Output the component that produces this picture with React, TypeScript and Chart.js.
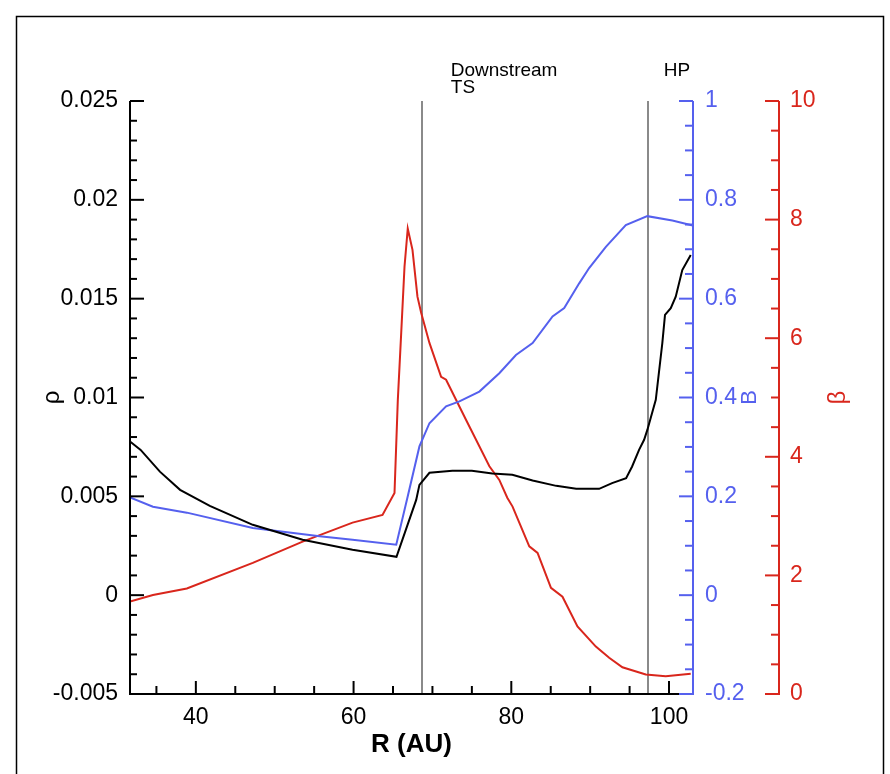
import React, { useEffect, useRef } from "react";
import { Chart, registerables } from "chart.js";

Chart.register(...registerables);

// ---- axis ranges / ticks ----
const xMin = 31.65;
const xMax = 103.04;
const xTicks = [40, 60, 80, 100];
const rhoRange = [-0.005, 0.025];
const rhoTicks = [-0.005, 0, 0.005, 0.01, 0.015, 0.02, 0.025];
const bRange = [-0.2, 1];
const bTicks = [-0.2, 0, 0.2, 0.4, 0.6, 0.8, 1];
const betaRange = [0, 10];
const betaTicks = [0, 2, 4, 6, 8, 10];

// ---- markers ----
const tsR = 68.65;
const hpR = 97.3;

// ---- series: density rho (black, left axis) ----
const rhoR = [31.65, 33.0, 35.44, 38.0, 41.77, 47.22, 53.54, 59.87, 65.44, 67.94, 68.35, 69.62, 72.53, 75.0, 77.59, 80.13, 82.7, 85.7, 88.23, 91.14, 92.78, 94.56, 95.32, 96.2, 96.84, 97.25, 98.32, 99.15, 99.49, 100.22, 100.85, 101.68, 102.75];
const rho = [0.00777, 0.00735, 0.00625, 0.00533, 0.00452, 0.00356, 0.0028, 0.0023, 0.00194, 0.00482, 0.00558, 0.00619, 0.0063, 0.0063, 0.00615, 0.00609, 0.0058, 0.00553, 0.00538, 0.00538, 0.00567, 0.00592, 0.00651, 0.00735, 0.00786, 0.00836, 0.00988, 0.01275, 0.01418, 0.01452, 0.0151, 0.01645, 0.01721];

// ---- series: magnetic field B (blue, right axis 1) ----
const bR = [31.65, 34.56, 38.86, 47.22, 55.7, 59.87, 65.41, 66.87, 68.35, 69.62, 71.73, 73.42, 75.95, 78.48, 80.59, 82.7, 85.23, 86.71, 88.61, 89.87, 91.99, 94.52, 97.25, 100.42, 103.0];
const bVal = [0.198, 0.179, 0.167, 0.136, 0.119, 0.112, 0.102, 0.2, 0.301, 0.348, 0.382, 0.392, 0.412, 0.449, 0.486, 0.51, 0.564, 0.581, 0.631, 0.662, 0.705, 0.749, 0.767, 0.758, 0.748];

// ---- series: plasma beta (red, right axis 2) ----
const betaR = [31.65, 34.56, 38.86, 47.22, 53.54, 59.87, 63.67, 65.19, 65.61, 66.04, 66.46, 66.87, 67.47, 68.1, 68.57, 69.62, 71.1, 71.73, 74.27, 77.22, 78.48, 79.49, 80.16, 82.28, 83.33, 85.03, 86.49, 88.39, 90.72, 92.41, 94.09, 97.05, 99.58, 102.75];
const beta = [1.56, 1.67, 1.78, 2.21, 2.57, 2.89, 3.02, 3.39, 4.96, 6.09, 7.21, 7.85, 7.49, 6.7, 6.43, 5.92, 5.35, 5.3, 4.62, 3.84, 3.61, 3.31, 3.16, 2.49, 2.38, 1.79, 1.64, 1.14, 0.8, 0.61, 0.45, 0.33, 0.3, 0.34];

const BLACK = "#000000";
const BLUE = "#5560ee";
const RED = "#d9261c";
const GRAY = "#8a8a8a";
const FONT = "'Liberation Sans', Arial, Helvetica, sans-serif";

function minorTicks(min: number, max: number, step: number): number[] {
  const out: number[] = [];
  const n = Math.round((max - min) / step);
  for (let i = 0; i <= n; i++) out.push(min + i * step);
  return out;
}

const zip = (xs: number[], ys: number[]) => xs.map((x, i) => ({ x, y: ys[i] }));

const decor = {
  id: "decor",
  beforeDraw(chart: any) {
    const { ctx } = chart;
    ctx.save();
    ctx.fillStyle = "#ffffff";
    ctx.fillRect(0, 0, chart.width, chart.height);
    ctx.strokeStyle = "#000";
    ctx.lineWidth = 1.5;
    ctx.strokeRect(16.5, 16.5, 867, 800);
    ctx.restore();
  },
  beforeDatasetsDraw(chart: any) {
    const { ctx, chartArea: a, scales } = chart;
    ctx.save();
    ctx.strokeStyle = GRAY;
    ctx.lineWidth = 2;
    [tsR, hpR].forEach((r) => {
      const px = Math.round(scales.x.getPixelForValue(r));
      ctx.beginPath();
      ctx.moveTo(px, a.top);
      ctx.lineTo(px, a.bottom);
      ctx.stroke();
    });
    ctx.restore();
  },
  afterDraw(chart: any) {
    const { ctx, chartArea: a, scales } = chart;
    const x = scales.x, y = scales.y, yB = scales.yB, yBeta = scales.yBeta;
    ctx.save();
    ctx.lineWidth = 2;
    const line = (x1: number, y1: number, x2: number, y2: number) => {
      ctx.beginPath();
      ctx.moveTo(x1, y1);
      ctx.lineTo(x2, y2);
      ctx.stroke();
    };
    // left axis
    ctx.strokeStyle = BLACK;
    line(a.left, a.top, a.left, a.bottom + 1);
    minorTicks(rhoRange[0], rhoRange[1], 0.001).forEach((v) => {
      const p = y.getPixelForValue(v);
      const major = rhoTicks.some((t) => Math.abs(t - v) < 1e-7);
      line(a.left, p, a.left + (major ? 14 : 7), p);
    });
    // bottom axis
    line(a.left - 1, a.bottom, a.right, a.bottom);
    minorTicks(35, 100, 5).forEach((v) => {
      const p = x.getPixelForValue(v);
      const major = xTicks.includes(v);
      line(p, a.bottom, p, a.bottom - (major ? 13 : 8));
    });
    // blue axis
    ctx.strokeStyle = BLUE;
    line(a.right, a.top, a.right, a.bottom + 1);
    minorTicks(bRange[0], bRange[1], 0.05).forEach((v) => {
      const p = yB.getPixelForValue(v);
      const major = bTicks.some((t) => Math.abs(t - v) < 1e-7);
      line(a.right, p, a.right - (major ? 14 : 8), p);
    });
    // red axis
    ctx.strokeStyle = RED;
    const rx = yBeta.left;
    line(rx, a.top, rx, a.bottom + 1);
    minorTicks(betaRange[0], betaRange[1], 0.5).forEach((v) => {
      const p = yBeta.getPixelForValue(v);
      const major = betaTicks.some((t) => Math.abs(t - v) < 1e-7);
      line(rx, p, rx - (major ? 14 : 8), p);
    });

    // titles
    const cy = (a.top + a.bottom) / 2;
    const vtext = (t: string, px: number, color: string, size: number) => {
      ctx.save();
      ctx.translate(px, cy);
      ctx.rotate(-Math.PI / 2);
      ctx.fillStyle = color;
      ctx.font = `${size}px ${FONT}`;
      ctx.textAlign = "center";
      ctx.textBaseline = "middle";
      ctx.fillText(t, 0, 0);
      ctx.restore();
    };
    vtext("ρ", 52, BLACK, 24);
    vtext("B", 750, BLUE, 22);
    vtext("β", 838, RED, 24);

    ctx.fillStyle = BLACK;
    ctx.font = `bold 26px ${FONT}`;
    ctx.textAlign = "center";
    ctx.textBaseline = "middle";
    ctx.fillText("R (AU)", (a.left + a.right) / 2, 745);

    // marker annotations
    ctx.font = `19px ${FONT}`;
    ctx.textAlign = "left";
    const tsPx = x.getPixelForValue(tsR);
    const hpPx = x.getPixelForValue(hpR);
    ctx.fillText("Downstream", tsPx + 29, 71);
    ctx.fillText("TS", tsPx + 29, 88);
    ctx.fillText("HP", hpPx + 16, 71);
    ctx.restore();
  },
};

export default function App() {
  const ref = useRef<HTMLCanvasElement | null>(null);
  useEffect(() => {
    if (!ref.current) return;
    const tickFont = { family: FONT, size: 23 };
    const noGrid = { display: false, drawTicks: false };
    const chart = new Chart(ref.current, {
      type: "scatter",
      data: {
        datasets: [
          { label: "rho", data: zip(rhoR, rho), yAxisID: "y", borderColor: BLACK, borderWidth: 2, showLine: true, pointRadius: 0, tension: 0 },
          { label: "B", data: zip(bR, bVal), yAxisID: "yB", borderColor: BLUE, borderWidth: 2, showLine: true, pointRadius: 0, tension: 0 },
          { label: "beta", data: zip(betaR, beta), yAxisID: "yBeta", borderColor: RED, borderWidth: 2, showLine: true, pointRadius: 0, tension: 0 },
        ],
      },
      options: {
        responsive: false,
        animation: false,
        devicePixelRatio: 1,
        layout: { padding: { top: 101, left: 0, right: 0, bottom: 0 } },
        plugins: { legend: { display: false }, tooltip: { enabled: false } },
        scales: {
          x: {
            type: "linear",
            position: "bottom",
            min: xMin,
            max: xMax,
            grid: noGrid,
            border: { display: false },
            afterBuildTicks: (s: any) => { s.ticks = xTicks.map((v) => ({ value: v })); },
            afterFit: (s: any) => { s.height = 80; },
            ticks: { color: BLACK, font: tickFont, padding: 10, maxRotation: 0, callback: (v: any) => String(v) },
          },
          y: {
            type: "linear",
            position: "left",
            min: rhoRange[0],
            max: rhoRange[1],
            grid: noGrid,
            border: { display: false },
            afterBuildTicks: (s: any) => { s.ticks = rhoTicks.map((v) => ({ value: v })); },
            afterFit: (s: any) => { s.width = 130; },
            ticks: { color: BLACK, font: tickFont, padding: 12, callback: (v: any) => String(v) },
          },
          yB: {
            type: "linear",
            position: "right",
            min: bRange[0],
            max: bRange[1],
            grid: noGrid,
            border: { display: false },
            afterBuildTicks: (s: any) => { s.ticks = bTicks.map((v) => ({ value: v })); },
            afterFit: (s: any) => { s.width = 86; },
            ticks: { color: BLUE, font: tickFont, padding: 12, callback: (v: any) => String(v) },
          },
          yBeta: {
            type: "linear",
            position: "right",
            min: betaRange[0],
            max: betaRange[1],
            grid: noGrid,
            border: { display: false },
            afterBuildTicks: (s: any) => { s.ticks = betaTicks.map((v) => ({ value: v })); },
            afterFit: (s: any) => { s.width = 111; },
            ticks: { color: RED, font: tickFont, padding: 11, callback: (v: any) => String(v) },
          },
        },
      } as any,
      plugins: [decor],
    });
    return () => chart.destroy();
  }, []);
  return (
    <canvas
      ref={ref}
      width={890}
      height={774}
      style={{ position: "absolute", left: 0, top: 0, width: 890, height: 774 }}
    />
  );
}
